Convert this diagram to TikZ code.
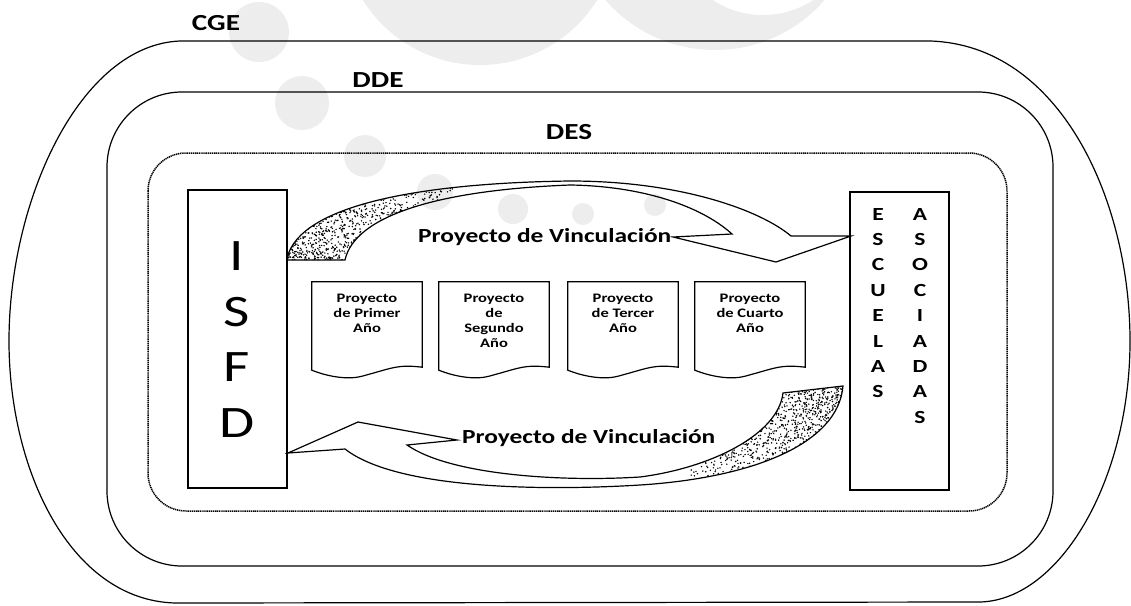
\documentclass[tikz,border=0pt]{standalone}
\usepackage{fontspec}
\setmainfont{Carlito}[FakeStretch=1.27]
\usetikzlibrary{positioning,calc}

\newcommand\uparrowpath{(287,258) .. controls (300,205) and (420,183) .. (570,181)
  .. controls (680,181) and (760,210) .. (791,236) -- (851,236) -- (776,262)
  -- (673,237) -- (732,234) .. controls (700,205) and (640,186) .. (570,185)
  .. controls (440,190) and (355,215) .. (345,260) -- (287,260) -- cycle}
\newcommand\lowarrowpath{(843,386) .. controls (838,445) and (750,478) .. (640,485)
  .. controls (560,490) and (400,492) .. (345,449) -- (288,453) -- (358,422)
  -- (457,440) -- (407,445) .. controls (450,475) and (560,482) .. (640,477)
  .. controls (710,468) and (778,435) .. (783,393) -- cycle}

\begin{document}
\begin{tikzpicture}[x=1pt,y=-1pt,
    ring/.style={line width=1.2pt},
    desring/.style={line width=1.5pt, dash pattern=on 1.2pt off 0.7pt},
    wmark/.style={fill=black!7},
    title/.style={font=\fontsize{23}{27}\selectfont\bfseries, inner sep=0},
    tallbox/.style={draw, line width=1.6pt, minimum width=99, inner sep=0},
    bigletter/.style={font=\fontsize{45}{50}\selectfont, inner sep=0},
    escletter/.style={font=\fontsize{18.5}{22}\selectfont\bfseries, inner sep=0},
    docbox/.style={minimum width=110, minimum height=88, inner sep=0},
    doctext/.style={font=\fontsize{13}{15}\selectfont\bfseries, align=center, anchor=north, inner sep=0},
    vinc/.style={font=\fontsize{20}{24}\selectfont\bfseries, anchor=base west, inner sep=0}
  ]
  \useasboundingbox[fill=white] (0,0) rectangle (1131,605);

  % watermark
  \fill[wmark] (480,-73) circle (138);
  \fill[wmark] (715,-95) circle (145);
  \fill[white] (763,-76) circle (91);
  \foreach \cx/\cy/\r in {259/32/30, 302/103/27, 365/156/21, 435/192/18,
                          513/209/15, 583/214/11, 655/205/11}
    \fill[wmark] (\cx,\cy) circle (\r);

  % CGE / DDE / DES
  \draw[ring] (180,41) -- (930,41) .. controls (1060,45) and (1130,200) .. (1130,341)
    .. controls (1130,480) and (1060,600) .. (980,602) -- (175,603)
    .. controls (70,600) and (9,470) .. (9,341) .. controls (9,200) and (80,45) .. (180,41) -- cycle;
  \draw[ring, rounded corners=75] (107,92) rectangle (1053,566);
  \draw[desring, rounded corners=38] (148,153) rectangle (1007,511);
  \node[title] (cge) at (216,23) {CGE};
  \node[title] (dde) at (378,80) {DDE};
  \node[title] (des) at (569,132) {DES};

  \node[tallbox, minimum height=298] (isfd) at (237.5,339) {};
  \node[tallbox, minimum height=298] (esc) at (899.5,341) {};
  \foreach \l [count=\i] in {I,S,F,D}
    \node[bigletter] (isfd-\i) at (237,256+55.7*\i-55.7) {\l};
  \foreach \l [count=\i] in {E,S,C,U,E,L,A,S}
    \node[escletter] (esc-\i) at (878,214+25.4*\i-25.4) {\l};
  \foreach \l [count=\i] in {A,S,O,C,I,A,D,A,S}
    \node[escletter] (aso-\i) at (920,214+25.4*\i-25.4) {\l};

  \foreach \t/\x [count=\i] in {{Proyecto\\de Primer\\Año}/367, {Proyecto\\de\\Segundo\\Año}/494,
                                {Proyecto\\de Tercer\\Año}/623, {Proyecto\\de Cuarto\\Año}/750} {
    \node[docbox] (doc\i) at (\x,326) {};
    \draw[line width=1.2pt] (doc\i.north west) -- (doc\i.north east) -- ($(doc\i.south east)+(0,-3)$)
      .. controls +(-25,-3) and +(30,-8) .. ($(doc\i.south)+(-5,6)$)
      .. controls +(-15,4) and +(15,6) .. (doc\i.south west) -- cycle;
    \node[doctext] (doctext\i) at ([yshift=-12pt]doc\i.north) {\t};
  }

  % Proyecto de Vinculacion arrows
  \begin{scope}
    \clip \uparrowpath;
    \clip (280,170) rectangle (455,265);
    \pgfmathsetseed{7}
    \foreach \k in {1,...,2200}
      \fill (280+175*rnd^1.6,170+95*rnd) circle (0.8);
  \end{scope}
  \draw[ring] \uparrowpath;
  \begin{scope}
    \clip \lowarrowpath;
    \clip (690,380) rectangle (850,492);
    \pgfmathsetseed{11}
    \foreach \k in {1,...,2200}
      \fill (850-160*rnd^1.6,380+112*rnd) circle (0.8);
  \end{scope}
  \draw[ring] \lowarrowpath;
  \node[vinc] (vinc-top) at (418,242) {Proyecto de Vinculación};
  \node[vinc] (vinc-bot) at (462,443) {Proyecto de Vinculación};
\end{tikzpicture}
\end{document}
